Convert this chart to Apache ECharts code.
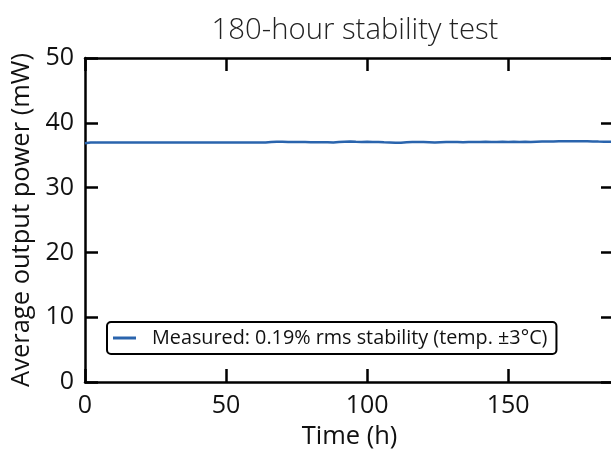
<!DOCTYPE html>
<html><head><meta charset="utf-8">
<script src="https://cdn.jsdelivr.net/npm/echarts@6/dist/echarts.min.js"></script>
<style>html,body{margin:0;padding:0;background:#fff}#c{width:611px;height:450px}</style>
</head><body><div id="c"></div>
<script>
const titleText = "180-hour stability test";
const xLabel = "Time (h)";
const yLabel = "Average output power (mW)";
const legendName = "Measured: 0.19% rms stability (temp. \u00b13\u00b0C)";
const xMin = 0, xMax = 187.5, xStep = 50;
const yMin = 0, yMax = 50, yStep = 10;
// time in hours (every 2 h)
const timeH = [0,2,4,6,8,10,12,14,16,18,20,22,24,26,28,30,32,34,36,38,40,42,44,46,48,50,52,54,56,58,60,62,64,66,68,70,72,74,76,78,80,82,84,86,88,90,92,94,96,98,100,102,104,106,108,110,112,114,116,118,120,122,124,126,128,130,132,134,136,138,140,142,144,146,148,150,152,154,156,158,160,162,164,166,168,170,172,174,176,178,180,182,184,186,187.5];
const powerMW = [36.85,36.95,36.96,36.97,36.96,36.97,36.96,36.97,36.97,36.96,36.97,36.96,36.97,36.96,36.97,36.96,36.96,36.97,36.96,36.96,36.97,36.96,36.96,36.95,36.96,36.96,36.95,36.96,36.95,36.96,36.95,36.96,36.95,37.02,37.08,37.07,37.05,37.04,37.03,37.02,37.01,37.00,36.99,36.98,36.96,37.05,37.09,37.12,37.08,37.05,37.06,37.03,37.02,36.98,36.96,36.93,36.94,36.98,37.02,37.04,37.03,37.0,36.97,37.01,37.02,37.03,37.02,36.98,37.05,37.02,37.03,37.06,37.05,37.04,37.07,37.05,37.08,37.03,37.06,37.02,37.08,37.10,37.12,37.13,37.14,37.15,37.15,37.16,37.15,37.14,37.13,37.10,37.09,37.08,37.08];
const data = timeH.map((t,i)=>[t, powerMW[i]]);
const FONT = "'Open Sans', 'Noto Sans', sans-serif";
const chart = echarts.init(document.getElementById('c'), null, {renderer:'canvas'});
const axisLine = {show:true, onZero:false, lineStyle:{color:'#000', width:2.5}};
const tick = {show:true, inside:true, length:13, lineStyle:{color:'#000', width:2.5}};
chart.setOption({
  animation:false,
  backgroundColor:'#fff',
  title:{text:titleText, left:350, textAlign:'center', top:11,
    textStyle:{fontFamily:FONT, fontSize:29.3, fontWeight:300, color:'#222'}},
  grid:{left:85, right:-3, top:58, bottom:68, containLabel:false, outerBoundsMode:'none'},
  legend:{show:true, left:107, top:322, padding:[6,9,6,6],
    borderColor:'#000', borderWidth:2, borderRadius:4, backgroundColor:'#fff',
    itemWidth:23, itemHeight:3, itemGap:10, icon:'rect',
    textStyle:{fontFamily:FONT, fontSize:19.8, color:'#111', padding:[0,0,0,11]},
    data:[{name:legendName, icon:'rect'}]},
  xAxis:[{type:'value', min:xMin, max:xMax, interval:xStep, position:'bottom',
    axisLine, axisTick:tick, splitLine:{show:false},
    axisLabel:{fontFamily:FONT, fontSize:25, color:'#111', margin:11, showMaxLabel:false},
    name:xLabel, nameLocation:'middle', nameGap:42,
    nameTextStyle:{fontFamily:FONT, fontSize:25.5, color:'#111'}},
    {type:'value', min:xMin, max:xMax, interval:xStep, position:'top',
    axisLine, axisTick:tick, axisLabel:{show:false}, splitLine:{show:false}}],
  yAxis:[{type:'value', min:yMin, max:yMax, interval:yStep, position:'left',
    axisLine, axisTick:tick, splitLine:{show:false},
    axisLabel:{fontFamily:FONT, fontSize:25, color:'#111', margin:11},
    name:yLabel, nameLocation:'middle', nameGap:47,
    nameTextStyle:{fontFamily:FONT, fontSize:25.5, color:'#111'}},
    {type:'value', min:yMin, max:yMax, interval:yStep, position:'right',
    axisLine:{show:true, onZero:false, lineStyle:{color:'rgba(0,0,0,0)', width:2.5}},
    axisTick:tick, axisLabel:{show:false}, splitLine:{show:false}}],
  series:[{name:legendName, type:'line', data, showSymbol:false, symbol:'none',
    lineStyle:{color:'#2a64ad', width:2.5}, itemStyle:{color:'#2a64ad'}}]
});
</script></body></html>
